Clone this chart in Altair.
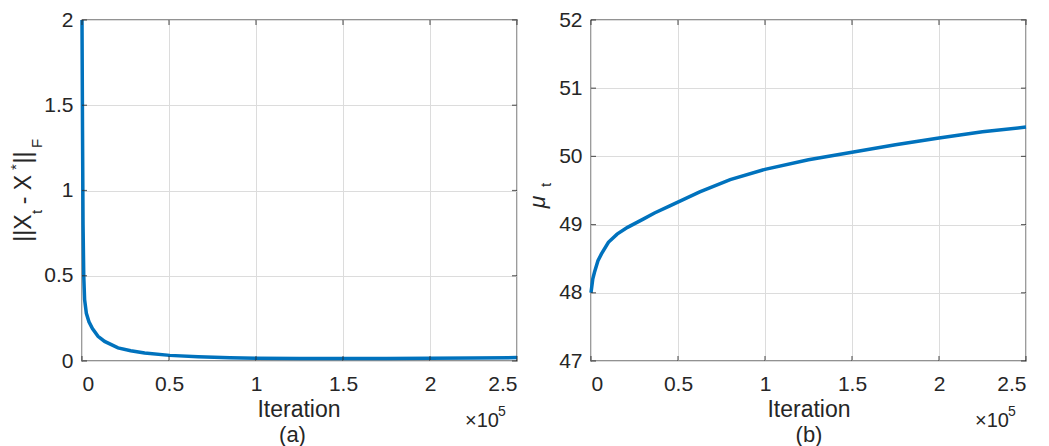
import altair as alt
import pandas as pd

# ---- data ----
left_iter = [0, 300, 600, 1000, 1500, 2500, 4000, 6000, 9200, 13000, 20700, 28000,
             36000, 50400, 66700, 85000, 100000, 125000, 150000, 175000, 200000, 225000, 250000]
left_err = [2.0, 1.35, 0.8, 0.5, 0.36, 0.28, 0.23, 0.19, 0.145, 0.115, 0.077, 0.060,
            0.047, 0.033, 0.025, 0.019, 0.016, 0.014, 0.014, 0.015, 0.016, 0.018, 0.020]

right_iter = [0, 1000, 2000, 4000, 6000, 10000, 15000, 21000, 30000, 36500, 45000,
              62500, 80000, 100000, 125000, 150000, 175000, 200000, 225000, 250000]
right_mu = [48.0, 48.2, 48.3, 48.47, 48.57, 48.74, 48.86, 48.96, 49.08, 49.17, 49.27,
            49.48, 49.66, 49.81, 49.95, 50.06, 50.17, 50.27, 50.36, 50.43]

x_ticks = [0, 50000, 100000, 150000, 200000, 250000]
left_yticks = [0, 0.5, 1, 1.5, 2]
right_yticks = [47, 48, 49, 50, 51, 52]

x_title = "Iteration"
left_caption = "(a)"
right_caption = "(b)"
exp_base = "\u00d710"
exp_power = "5"

FONT = "Liberation Sans"
BLUE = "#0072BD"
TXT = "#262626"
W, H = 435, 341

one = pd.DataFrame({"k": [0]})


def txt(text, x, y, size, angle=0, align="center", baseline="alphabetic", style="normal"):
    return alt.Chart(one).mark_text(
        text=text, font=FONT, fontSize=size, color=TXT, angle=angle,
        align=align, baseline=baseline, fontStyle=style
    ).encode(x=alt.value(x), y=alt.value(y))


def panel(xs, ys, ydomain, yticks, extra):
    df = pd.DataFrame({"iter": xs, "val": ys})
    xsc = alt.Scale(domain=[0, 250000], nice=False, zero=False)
    ysc = alt.Scale(domain=ydomain, nice=False, zero=False)
    line = alt.Chart(df).mark_line(color=BLUE, strokeWidth=3.5, clip=False).encode(
        x=alt.X("iter:Q", scale=xsc,
                axis=alt.Axis(values=x_ticks, labelExpr="datum.value / 100000", title=None,
                              labelPadding=12)),
        y=alt.Y("val:Q", scale=ysc,
                axis=alt.Axis(values=yticks, title=None, labelPadding=9,
                              labelExpr="format(datum.value, '~g')")),
    )
    xt = pd.DataFrame({"iter": x_ticks})
    yt = pd.DataFrame({"val": yticks})
    tick_style = dict(color=TXT, size=5, thickness=1.2)
    xticks_b = alt.Chart(xt).mark_tick(orient="vertical", **tick_style).encode(
        x=alt.X("iter:Q", scale=xsc), y=alt.value(H - 2.5))
    xticks_t = alt.Chart(xt).mark_tick(orient="vertical", **tick_style).encode(
        x=alt.X("iter:Q", scale=xsc), y=alt.value(2.5))
    yticks_l = alt.Chart(yt).mark_tick(orient="horizontal", **tick_style).encode(
        y=alt.Y("val:Q", scale=ysc), x=alt.value(2.5))
    yticks_r = alt.Chart(yt).mark_tick(orient="horizontal", **tick_style).encode(
        y=alt.Y("val:Q", scale=ysc), x=alt.value(W - 2.5))
    return alt.layer(line, xticks_b, xticks_t, yticks_l, yticks_r, *extra).properties(
        width=W, height=H)


left_extra = [
    txt("||X", -51, 208, 23, angle=270),
    txt("t", -40, 192, 15, angle=270),
    txt("- X", -51, 169.5, 23, angle=270),
    txt("*", -61, 147, 15, angle=270),
    txt("||", -51, 137.5, 23, angle=270),
    txt("F", -40, 123.5, 15, angle=270),
    txt(x_title, 217, 397, 23),
    txt(left_caption, 210.5, 422, 22),
    txt(exp_base, 383, 407, 20, align="left"),
    txt(exp_power, 416, 396, 14, align="left"),
]

right_extra = [
    txt("\u03bc", -46, 182, 23, angle=270, style="italic"),
    txt("t", -40, 165, 15, angle=270),
    txt(x_title, 218, 397, 23),
    txt(right_caption, 218, 422, 22),
    txt(exp_base, 384, 407, 20, align="left"),
    txt(exp_power, 417, 396, 14, align="left"),
]

left = panel(left_iter, left_err, [0, 2], left_yticks, left_extra)
right = panel(right_iter, right_mu, [47, 52], right_yticks, right_extra)

chart = alt.hconcat(left, right, spacing=74, bounds="flush").properties(
    padding={"left": 0, "top": 0, "right": 0, "bottom": 0}
).configure_view(
    stroke="#262626", strokeWidth=1.3
).configure_axis(
    domain=False, ticks=False, grid=True, gridColor="#dcdcdc", gridWidth=1,
    labelFont=FONT, labelFontSize=21, labelColor=TXT
).configure_axisX(labelAngle=0)

chart.save("out.html", embed_options={"renderer": "svg", "actions": False})
